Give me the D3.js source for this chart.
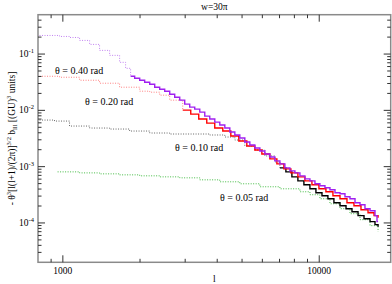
<!DOCTYPE html>
<html><head><meta charset="utf-8">
<script src="https://cdn.jsdelivr.net/npm/d3@7"></script>
<style>body{margin:0;background:#fff}svg{display:block}text{font-family:"Liberation Serif","DejaVu Serif",serif;fill:#000}</style>
</head><body><svg id="c" width="392" height="284"></svg>
<script>
// ---- data ----
const theta040DotL = [811, 887, 971, 1062, 1162, 1272, 1391, 1522, 1665, 1757, 1838];
const theta040DotV = [0.214, 0.214, 0.2055, 0.197, 0.1747, 0.1484, 0.1162, 0.0948, 0.0713, 0.0558, 0.0403];
const theta040L = [1838, 1906, 1994, 2085, 2182, 2282, 2386, 2496, 2611, 2731, 2857, 2988, 3125, 3269, 3420, 3577, 3741, 3914, 4094, 4283, 4480, 4686, 4900, 5126, 5362, 5609, 5867, 6137, 6418, 6713, 7023, 7346, 7684, 8038, 8408, 8795, 9198, 9622, 10060, 10527, 11010, 11520, 12050, 12600, 13180, 13790, 14420, 15080, 15780, 16500, 16800, 16960];
const theta040V = [0.0403, 0.03717, 0.03426, 0.03158, 0.02911, 0.02576, 0.02374, 0.02189, 0.01937, 0.01714, 0.01517, 0.01289, 0.0114, 0.01051, 0.0093, 0.0079, 0.007, 0.00619, 0.00548, 0.00485, 0.00412, 0.00365, 0.00323, 0.00274, 0.002427, 0.002147, 0.0019, 0.001681, 0.001488, 0.001264, 0.001119, 0.000951, 0.000841, 0.000775, 0.000687, 0.000607, 0.00056, 0.000496, 0.000457, 0.000421, 0.000388, 0.000343, 0.00033, 0.000292, 0.000269, 0.000229, 0.000211, 0.000179, 0.000165, 0.000135, 0.0001054, 0.0001054];

const theta020DotL = [811, 971, 1162, 1391, 1665, 1994, 2182, 2386, 2611, 2935];
const theta020DotV = [0.0403, 0.0387, 0.03426, 0.03032, 0.02576, 0.02189, 0.02101, 0.0186, 0.01517, 0.01009];
const theta020L = [2935, 3154, 3389, 3642, 3913, 4206, 4520, 4857, 5219, 5608, 5973, 6419, 6836, 7280, 7752, 8256, 8793, 9365, 9973, 10620, 11310, 12050, 12830, 13660, 14550, 15500, 16360, 16960];
const theta020V = [0.01009, 0.00858, 0.007, 0.00594, 0.00485, 0.00429, 0.0035, 0.002855, 0.00233, 0.001979, 0.001681, 0.001372, 0.001119, 0.000913, 0.000775, 0.000659, 0.00056, 0.000476, 0.000404, 0.000358, 0.000304, 0.000269, 0.000229, 0.000202, 0.000172, 0.000152, 0.000135, 0.000124];

const theta010DotL = [811, 928, 1062, 1272, 1522, 1822, 2182, 2611, 3125, 3741, 4283, 4686, 5126, 5609, 6137, 6713, 7023];
const theta010DotV = [0.00672, 0.00645, 0.00526, 0.00485, 0.004656, 0.00429, 0.00396, 0.0038, 0.0038, 0.00365, 0.00336, 0.00297, 0.00233, 0.001979, 0.00155, 0.001214, 0.000951];
const theta010L = [7023, 7412, 7823, 8256, 8714, 9198, 9707, 10250, 10810, 11410, 12050, 12720, 13420, 14170, 14950, 15780, 16500, 16960];
const theta010V = [0.000951, 0.000808, 0.000659, 0.00056, 0.000476, 0.000404, 0.000343, 0.000304, 0.000269, 0.000229, 0.000202, 0.000179, 0.000158, 0.000135, 0.000119, 0.0001054, 0.0000933, 0.000086];

const theta005DotL = [954, 1162, 1391, 1665, 1994, 2386, 2857, 3420, 4094, 4900, 5867, 7023, 8408, 9198, 10060, 11010, 12050, 13180, 14420, 15780, 16960];
const theta005DotV = [0.000808, 0.000775, 0.000745, 0.000715, 0.000687, 0.000659, 0.000633, 0.000583, 0.000538, 0.000496, 0.000439, 0.000404, 0.000358, 0.000317, 0.000269, 0.000219, 0.000179, 0.000146, 0.0001143, 0.0000896, 0.0000701];

const xTicksMajor = [1000, 10000];
const xTickLabels = ["1000", "10000"];
const yTicksMajor = [1e-1, 1e-2, 1e-3, 1e-4];
const yTickExps = ["-1", "-2", "-3", "-4"];
const seriesLabels = ["\u03b8 = 0.40 rad", "\u03b8 = 0.20 rad", "\u03b8 = 0.10 rad", "\u03b8 = 0.05 rad"];

// ---- drawing ----
const svg = d3.select("#c");
const L = 38, R = 390.7, T = 14.7, B = 262.3;
const x = d3.scaleLog().domain([800, 19000]).range([L, R]);
const y = d3.scaleLog().domain([2e-5, 0.5]).range([B, T]);

const zip = (a, b) => a.map((d, i) => [d, b[i]]);
const line = d3.line().x(d => x(d[0])).y(d => y(d[1])).curve(d3.curveStepAfter);

const g = svg.append("g");
svg.append("clipPath").attr("id", "pc").append("rect").attr("x", L).attr("y", T).attr("width", R - L).attr("height", B - T);

const dotted = [
  [theta005DotL, theta005DotV, "#44bb44"],
  [theta010DotL, theta010DotV, "#666666"],
  [theta020DotL, theta020DotV, "#ff8080"],
  [theta040DotL, theta040DotV, "#c080f0"]
];
dotted.forEach(([l, v, c]) => {
  g.append("path").attr("d", line(zip(l, v))).attr("fill", "none").attr("stroke", c)
    .attr("stroke-width", 1).attr("stroke-dasharray", "1,1.5").attr("clip-path", "url(#pc)");
});
const solid = [
  [theta010L, theta010V, "#000000"],
  [theta020L, theta020V, "#ff0000"],
  [theta040L, theta040V, "#a020f0"]
];
solid.forEach(([l, v, c]) => {
  g.append("path").attr("d", line(zip(l, v))).attr("fill", "none").attr("stroke", c)
    .attr("stroke-width", 1.4).attr("clip-path", "url(#pc)");
});

// frame
svg.append("rect").attr("x", L).attr("y", T).attr("width", R - L).attr("height", B - T)
  .attr("fill", "none").attr("stroke", "#8a8a8a").attr("stroke-width", 1.5);

// ticks (inside, all four sides)
const tk = svg.append("g").attr("stroke", "#333").attr("stroke-width", 1);
const xMinor = [900];
for (let k = 2; k <= 9; k++) xMinor.push(k * 1000);
xMinor.forEach(v => {
  tk.append("line").attr("x1", x(v)).attr("x2", x(v)).attr("y1", B).attr("y2", B - 3.5);
  tk.append("line").attr("x1", x(v)).attr("x2", x(v)).attr("y1", T).attr("y2", T + 3.5);
});
xTicksMajor.forEach(v => {
  tk.append("line").attr("x1", x(v)).attr("x2", x(v)).attr("y1", B).attr("y2", B - 7);
  tk.append("line").attr("x1", x(v)).attr("x2", x(v)).attr("y1", T).attr("y2", T + 7);
});
const yMinor = [];
for (let e = -5; e <= -1; e++) for (let k = 2; k <= 9; k++) {
  const v = k * Math.pow(10, e);
  if (v > 2e-5 && v < 0.5) yMinor.push(v);
}
yMinor.forEach(v => {
  tk.append("line").attr("x1", L).attr("x2", L + 3.5).attr("y1", y(v)).attr("y2", y(v));
  tk.append("line").attr("x1", R).attr("x2", R - 3.5).attr("y1", y(v)).attr("y2", y(v));
});
yTicksMajor.forEach(v => {
  tk.append("line").attr("x1", L).attr("x2", L + 7).attr("y1", y(v)).attr("y2", y(v));
  tk.append("line").attr("x1", R).attr("x2", R - 7).attr("y1", y(v)).attr("y2", y(v));
});

// tick labels
xTicksMajor.forEach((v, i) => {
  svg.append("text").attr("x", x(v)).attr("y", 274).attr("text-anchor", "middle")
    .attr("font-size", 9.5).text(xTickLabels[i]);
});
yTicksMajor.forEach((v, i) => {
  const t = svg.append("text").attr("x", 34).attr("y", y(v) + 3).attr("text-anchor", "end").attr("font-size", 9.5);
  t.append("tspan").text("10");
  t.append("tspan").attr("dy", -4).attr("font-size", 6.5).text(yTickExps[i]);
});

// title and axis labels
svg.append("text").attr("x", (L + R) / 2).attr("y", 10).attr("text-anchor", "middle").attr("font-size", 9.5).text("w=30\u03c0");
svg.append("text").attr("x", (L + R) / 2).attr("y", 282).attr("text-anchor", "middle").attr("font-size", 9.5).text("l");
const yl = svg.append("text").attr("transform", `translate(15,${(T + B) / 2}) rotate(-90)`)
  .attr("text-anchor", "middle").attr("font-size", 9.5);
yl.append("tspan").text("- \u03b8");
yl.append("tspan").attr("dy", -4).attr("font-size", 6.5).text("3");
yl.append("tspan").attr("dy", 4).text("[l(l+1)/(2\u03c0)]");
yl.append("tspan").attr("dy", -4).attr("font-size", 6.5).text("3/2");
yl.append("tspan").attr("dy", 4).text(" b");
yl.append("tspan").attr("dy", 2).attr("font-size", 6.5).text("lll");
yl.append("tspan").attr("dy", -2).text(" [(GU)");
yl.append("tspan").attr("dy", -4).attr("font-size", 6.5).text("3");
yl.append("tspan").attr("dy", 4).text(" units]");

// series annotations
const labelPos = [[55, 74], [85, 105], [175, 151], [220, 201]];
seriesLabels.forEach((s, i) => {
  svg.append("text").attr("x", labelPos[i][0]).attr("y", labelPos[i][1]).attr("font-size", 10).text(s);
});
</script></body></html>
